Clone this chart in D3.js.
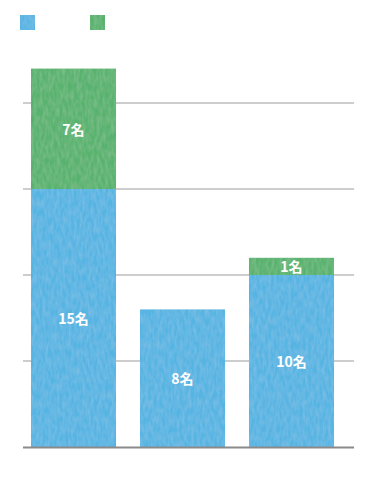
<!DOCTYPE html>
<html>
<head>
<meta charset="utf-8">
<script src="https://cdn.jsdelivr.net/npm/d3@7"></script>
<style>
  body { margin: 0; background: #fff; }
  svg { display: block; }
</style>
</head>
<body>
<div id="chart"></div>
<script>
// data
const categories = ['A', 'B', 'C'];
const seriesNames = ['series1', 'series2'];
const blueValues = [15, 8, 10];
const greenValues = [7, 0, 1];
const gridTicks = [5, 10, 15, 20];
const colors = ['#55b4e2', '#57b26d'];

const width = 374, height = 488;

const svg = d3.select('#chart').append('svg')
    .attr('width', width)
    .attr('height', height);

// subtle texture for the bars
const defs = svg.append('defs');
const filt = defs.append('filter').attr('id', 'tex');
filt.append('feTurbulence')
    .attr('type', 'fractalNoise')
    .attr('baseFrequency', '0.35 0.12')
    .attr('numOctaves', 2)
    .attr('seed', 3)
    .attr('result', 'noise');
filt.append('feColorMatrix')
    .attr('in', 'noise')
    .attr('type', 'matrix')
    .attr('values', '0 0 0 0 1  0 0 0 0 1  0 0 0 0 1  0 0 0 0.18 -0.05')
    .attr('result', 'spots');
filt.append('feComposite')
    .attr('in', 'spots').attr('in2', 'SourceGraphic')
    .attr('operator', 'in').attr('result', 'spotsIn');
filt.append('feMerge').selectAll('feMergeNode')
    .data(['SourceGraphic', 'spotsIn']).join('feMergeNode')
    .attr('in', d => d);

const x = d3.scaleBand()
    .domain(categories)
    .range([19, 346])
    .paddingInner(0.22)
    .paddingOuter(0.11);

const y = d3.scaleLinear()
    .domain([0, 25])
    .range([447, 17]);

// gridlines
svg.append('g').selectAll('line')
    .data(gridTicks).join('line')
    .attr('x1', 23).attr('x2', 354)
    .attr('y1', d => y(d)).attr('y2', d => y(d))
    .attr('stroke', '#bdbdbd')
    .attr('stroke-width', 1.5);

// stacked data
const rows = categories.map((c, i) => ({ cat: c, series1: blueValues[i], series2: greenValues[i] }));
const stack = d3.stack().keys(seriesNames)(rows);

const layers = svg.append('g').selectAll('g')
    .data(stack).join('g')
    .attr('fill', (d, i) => colors[i]);

layers.selectAll('rect')
    .data(d => d.filter(s => s[1] - s[0] > 0))
    .join('rect')
    .attr('x', d => x(d.data.cat))
    .attr('width', x.bandwidth())
    .attr('y', d => y(d[1]))
    .attr('height', d => y(d[0]) - y(d[1]))
    .attr('filter', 'url(#tex)');

// baseline
svg.append('line')
    .attr('x1', 23).attr('x2', 354)
    .attr('y1', y(0) + 0.5).attr('y2', y(0) + 0.5)
    .attr('stroke', '#8a8a8a')
    .attr('stroke-width', 2);

// value labels
layers.selectAll('text')
    .data(d => d.filter(s => s[1] - s[0] > 0))
    .join('text')
    .attr('x', d => x(d.data.cat) + x.bandwidth() / 2)
    .attr('y', d => (y(d[0]) + y(d[1])) / 2)
    .attr('text-anchor', 'middle')
    .attr('dominant-baseline', 'central')
    .attr('fill', '#fff')
    .attr('font-family', '"Noto Sans CJK JP", "Noto Sans", sans-serif')
    .attr('font-weight', 'bold')
    .attr('font-size', 14)
    .text(d => (d[1] - d[0]) + '名');

// legend squares
svg.append('g').selectAll('rect')
    .data(seriesNames).join('rect')
    .attr('x', (d, i) => 20 + i * 70)
    .attr('y', 15)
    .attr('width', 15)
    .attr('height', 15)
    .attr('fill', (d, i) => colors[i])
    .attr('filter', 'url(#tex)');
</script>
</body>
</html>
